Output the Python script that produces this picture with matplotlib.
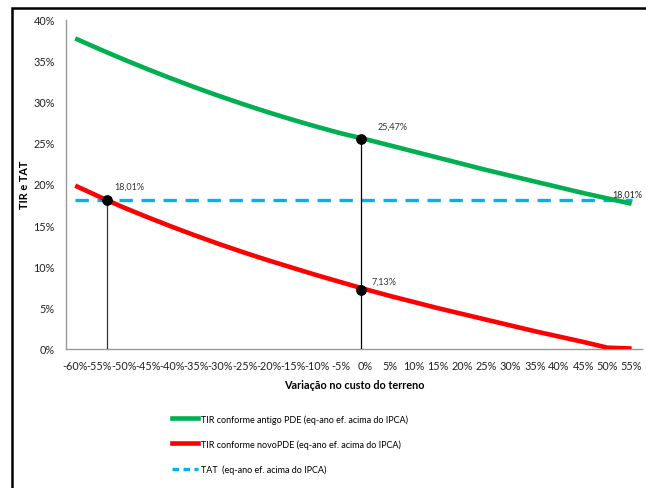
import matplotlib
matplotlib.use("Agg")
import matplotlib.pyplot as plt
from matplotlib.patches import Rectangle
from matplotlib.lines import Line2D

plt.rcParams['font.family'] = ['Lato', 'DejaVu Sans']

variacao = [-60, -55, -50, -45, -40, -35, -30, -25, -20, -15, -10, -5,
            0, 5, 10, 15, 20, 25, 30, 35, 40, 45, 50, 55]
tir_antigo = [37.7, 36.4, 35.15, 33.95, 32.8, 31.7, 30.65, 29.65, 28.7, 27.8, 26.95, 26.15,
              25.45, 24.7, 23.95, 23.2, 22.45, 21.7, 21.0, 20.3, 19.6, 18.9, 18.25, 17.6]
tir_novo = [19.8, 18.45, 17.15, 15.95, 14.8, 13.7, 12.65, 11.65, 10.7, 9.8, 8.9, 8.05,
            7.2, 6.4, 5.65, 4.9, 4.2, 3.5, 2.8, 2.1, 1.45, 0.8, 0.1, 0.0]
tat = 18.01
tick_labels = [f"{v}%" for v in variacao]

# highlighted points (x, y, label)
pt_novo_x, pt_novo_y, pt_novo_lbl = -53.5, 18.01, "18,01%"
pt_base_x = -1.0
pt_base_antigo, lbl_base_antigo = 25.47, "25,47%"
pt_base_novo, lbl_base_novo = 7.13, "7,13%"
lbl_fim = "18,01%"

W, H = 646, 489
fig = plt.figure(figsize=(W / 100, H / 100), dpi=100)
ax = fig.add_axes([66 / W, 1 - 349.5 / H, (642 - 66) / W, (349.5 - 20.5) / H])

ax.plot(variacao, tir_antigo, color="#00B050", lw=3.3, solid_capstyle='butt',
        solid_joinstyle='round', zorder=3)
ax.plot(variacao, tir_novo, color="#FF0000", lw=3.3, solid_capstyle='butt',
        solid_joinstyle='round', zorder=3)
ax.plot([variacao[0], variacao[-1]], [tat, tat], color="#00B0F0", lw=2.4,
        dashes=(4, 2.6), zorder=2)

# vertical reference lines and points
ax.plot([pt_novo_x, pt_novo_x], [0, pt_novo_y], color="#333333", lw=0.9, zorder=4)
ax.plot([pt_base_x, pt_base_x], [0, pt_base_antigo], color="black", lw=0.9, zorder=4)
ax.scatter([pt_novo_x, pt_base_x, pt_base_x], [pt_novo_y, pt_base_antigo, pt_base_novo],
           s=45, color="black", zorder=5)
ax.text(pt_novo_x + 1.5, pt_novo_y + 1.7, pt_novo_lbl, fontsize=6.5, color="#333333", va="center")
ax.text(pt_base_x + 3.5, pt_base_antigo + 1.6, lbl_base_antigo, fontsize=6.5, color="#333333", va="center")
ax.text(pt_base_x + 2.2, pt_base_novo + 1.0, lbl_base_novo, fontsize=6.5, color="#333333", va="center")
ax.text(variacao[-1] - 3.9, tat + 0.7, lbl_fim, fontsize=6.5, color="#222222", va="center",
        clip_on=False)

ax.set_xlim(-61.9, 57.15)
ax.set_ylim(0, 40)
ax.set_xticks(variacao)
ax.set_xticklabels(tick_labels)
ax.set_yticks(range(0, 41, 5))
ax.set_yticklabels([f"{v}%" for v in range(0, 41, 5)])
ax.tick_params(axis='both', length=0, labelsize=7.8, colors="#222222")
ax.tick_params(axis='x', pad=8)
ax.tick_params(axis='y', pad=8)
for s in ["top", "right"]:
    ax.spines[s].set_visible(False)
for s in ["left", "bottom"]:
    ax.spines[s].set_color("#999999")
    ax.spines[s].set_linewidth(1.0)

ax.set_xlabel("Variação no custo do terreno", fontsize=7.8, fontweight="bold", labelpad=6)
ax.set_ylabel("TIR e TAT", fontsize=7.8, fontweight="bold")
ax.yaxis.set_label_coords((30 - 66) / 576, 0.5)

handles = [
    Line2D([], [], color="#00B050", lw=3.3),
    Line2D([], [], color="#FF0000", lw=3.3),
    Line2D([], [], color="#00B0F0", lw=2.4, dashes=(2, 1.3)),
]
labels = [
    "TIR conforme antigo PDE (eq-ano ef. acima do IPCA)",
    "TIR conforme novoPDE (eq-ano ef. acima do IPCA)",
    "TAT  (eq-ano ef. acima do IPCA)",
]
fig.legend(handles, labels, loc="upper left", bbox_to_anchor=(172 / W, 1 - 415 / H),
           frameon=False, fontsize=6.5, handlelength=2.9, handletextpad=0.3,
           labelspacing=1.72, borderpad=0, borderaxespad=0)

# outer chart frame
fig.patches.append(Rectangle((12 / W, -0.1), 1.2, (H - 9) / H + 0.1, transform=fig.transFigure,
                             fill=False, edgecolor="black", lw=1.8, zorder=10))

fig.savefig("out.png", dpi=100)
